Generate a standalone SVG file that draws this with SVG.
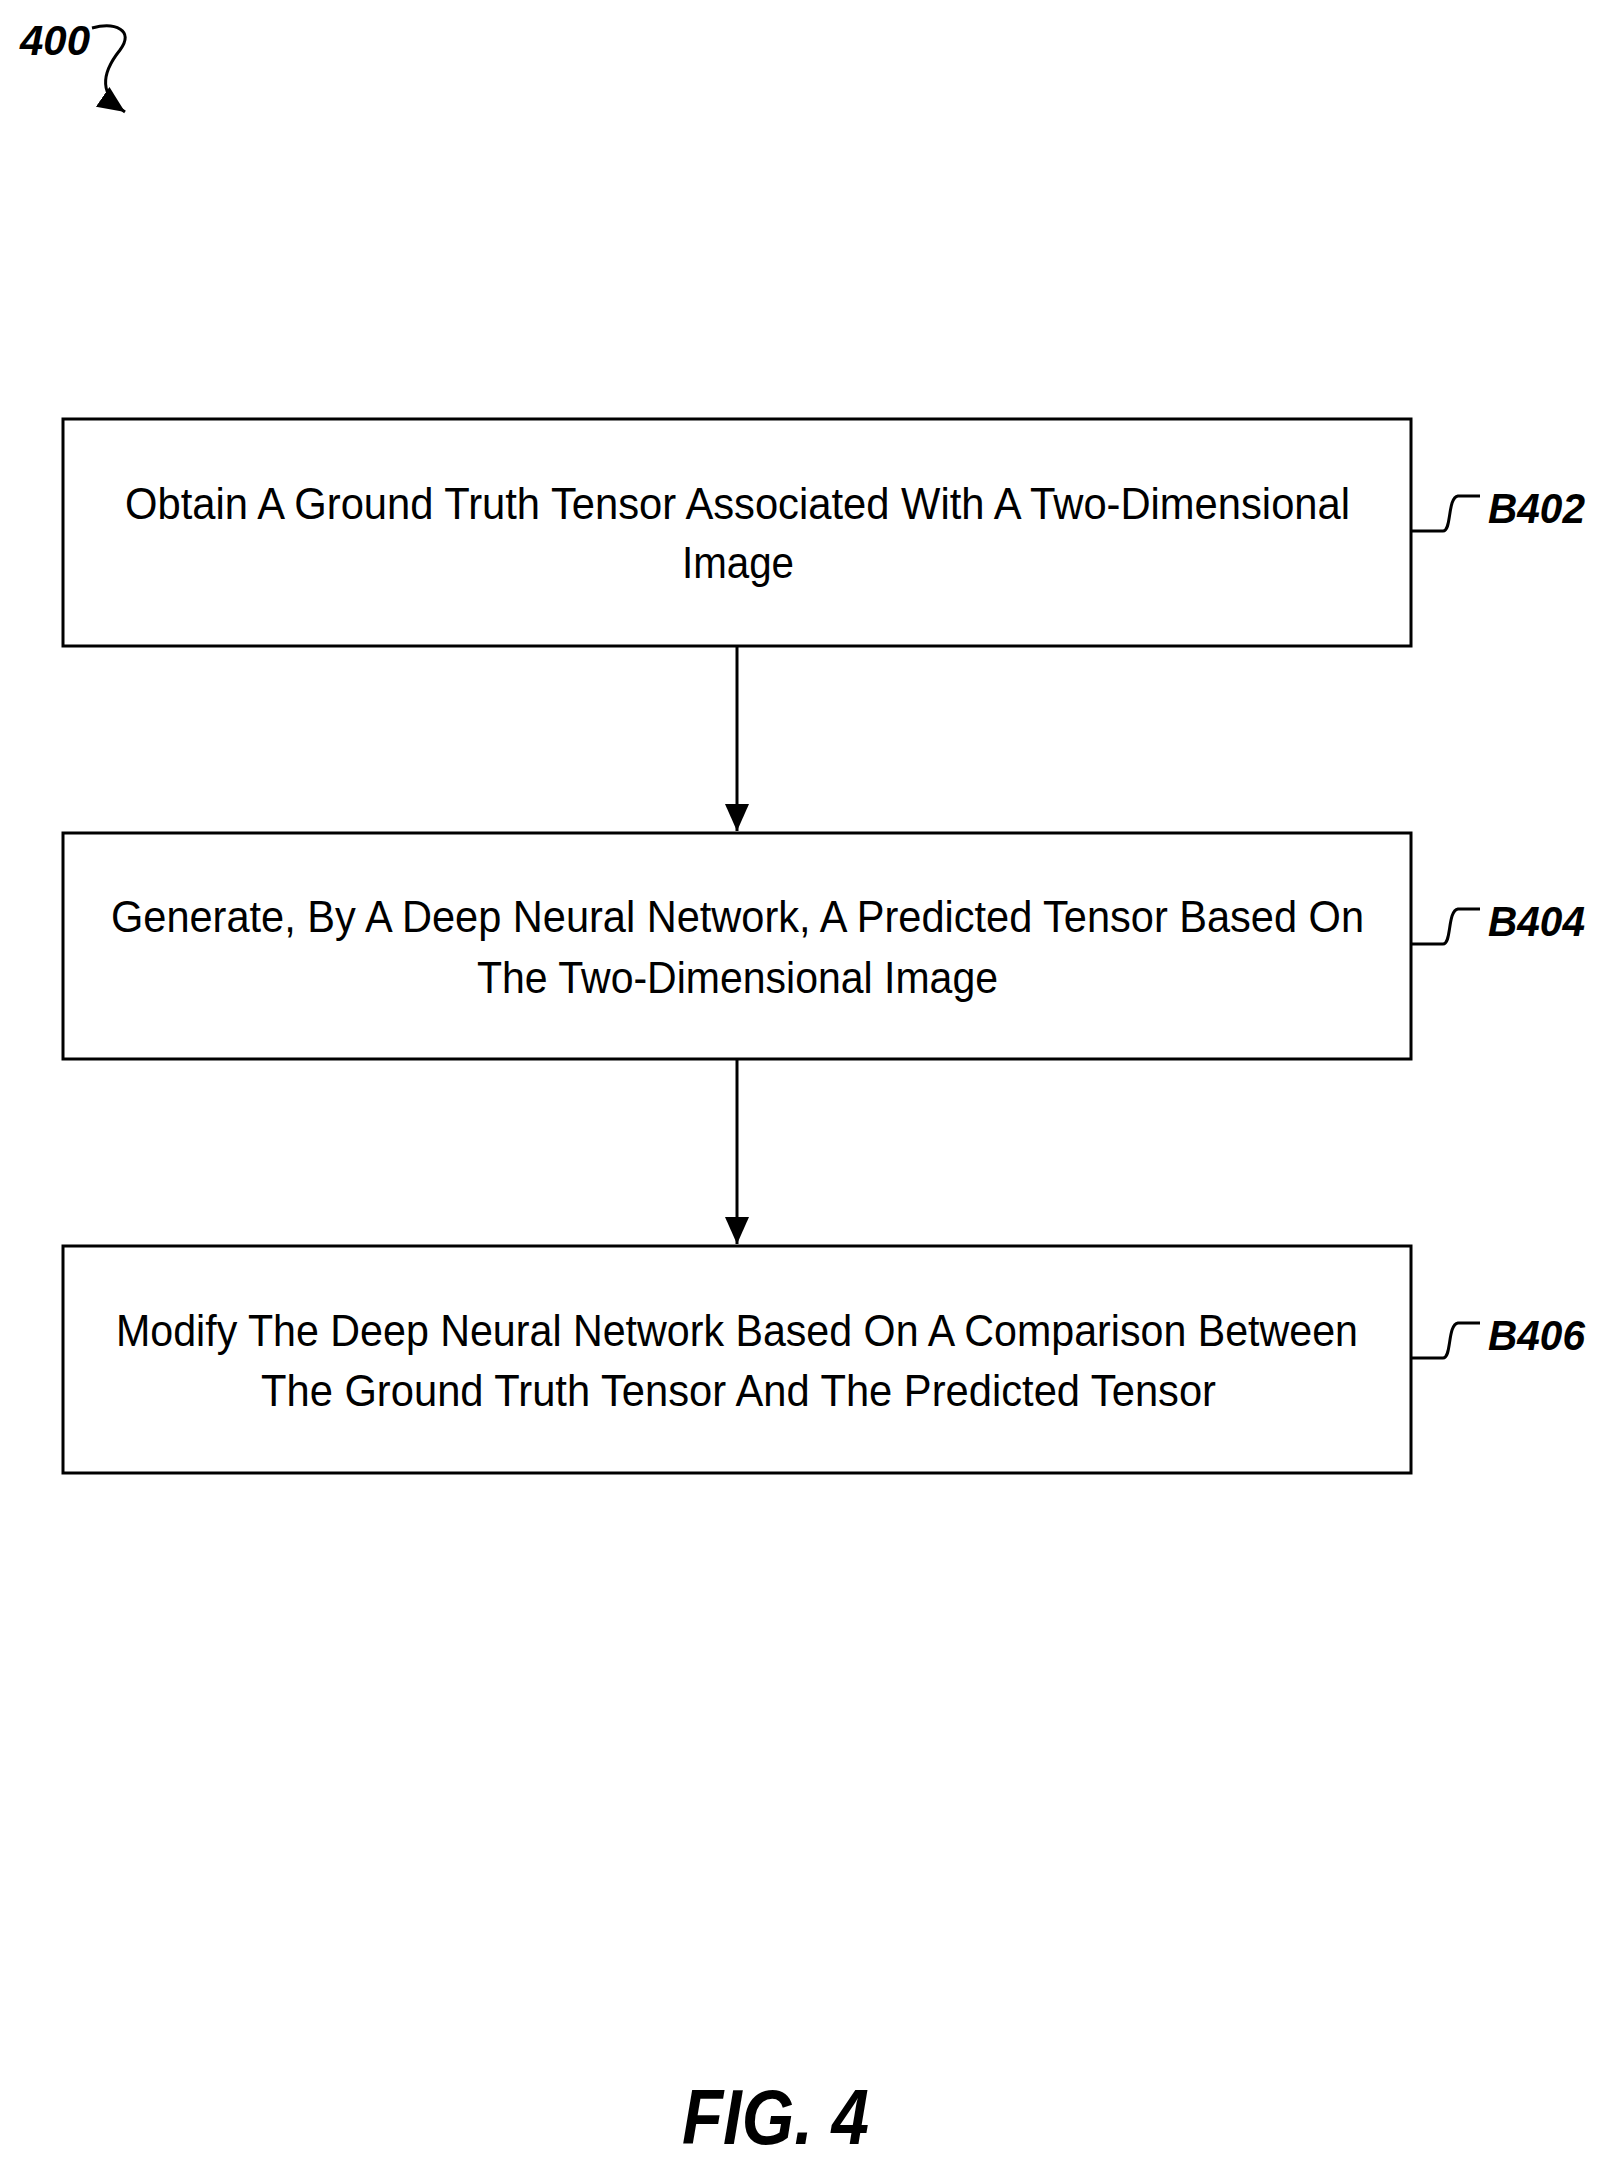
<svg xmlns="http://www.w3.org/2000/svg" width="1604" height="2164" viewBox="0 0 1604 2164">
<style>
.box{fill:#fff;stroke:#000;stroke-width:3}
.t{font-family:"Liberation Sans",Arial,sans-serif;font-size:44px;fill:#000}
.lbl{font-family:"Liberation Sans",Arial,sans-serif;font-size:42px;font-weight:bold;font-style:italic;fill:#000}
.ln{fill:none;stroke:#000;stroke-width:3}
</style>
<defs><marker id="ah" markerWidth="10" markerHeight="10" refX="9" refY="5" orient="auto" markerUnits="strokeWidth"><path d="M0,1 L9,5 L0,9 Z" fill="#000"/></marker></defs>
<rect width="1604" height="2164" fill="#fff"/>
<g id="ref400">
<text class="lbl" x="20" y="55" textLength="70" lengthAdjust="spacingAndGlyphs">400</text>
<path class="ln" d="M92,28 C115,22 135,30 120,50 C100,75 100,95 125,112" marker-end="url(#ah)" stroke-width="2"/>
</g>
<g id="B402">
<rect class="box" x="63" y="419" width="1348" height="227"/>
<text class="t" x="125" y="519" textLength="1225" lengthAdjust="spacingAndGlyphs">Obtain A Ground Truth Tensor Associated With A Two-Dimensional</text>
<text class="t" x="682" y="578" textLength="112" lengthAdjust="spacingAndGlyphs">Image</text>
<path class="ln" d="M1411,531 L1443,531 C1452,531 1447,498 1458,496 L1480,496" stroke-width="2"/>
<text class="lbl" x="1488" y="523" textLength="97" lengthAdjust="spacingAndGlyphs">B402</text>
</g>
<g id="B404">
<rect class="box" x="63" y="833" width="1348" height="226"/>
<text class="t" x="111" y="932" textLength="1253" lengthAdjust="spacingAndGlyphs">Generate, By A Deep Neural Network, A Predicted Tensor Based On</text>
<text class="t" x="477" y="993" textLength="521" lengthAdjust="spacingAndGlyphs">The Two-Dimensional Image</text>
<path class="ln" d="M1411,944 L1443,944 C1452,944 1447,911 1458,909 L1480,909" stroke-width="2"/>
<text class="lbl" x="1488" y="936" textLength="97" lengthAdjust="spacingAndGlyphs">B404</text>
</g>
<g id="B406">
<rect class="box" x="63" y="1246" width="1348" height="227"/>
<text class="t" x="116" y="1346" textLength="1242" lengthAdjust="spacingAndGlyphs">Modify The Deep Neural Network Based On A Comparison Between</text>
<text class="t" x="261" y="1406" textLength="955" lengthAdjust="spacingAndGlyphs">The Ground Truth Tensor And The Predicted Tensor</text>
<path class="ln" d="M1411,1358 L1443,1358 C1452,1358 1447,1325 1458,1323 L1480,1323" stroke-width="2"/>
<text class="lbl" x="1488" y="1350" textLength="97" lengthAdjust="spacingAndGlyphs">B406</text>
</g>
<g id="connectors">
<line class="ln" x1="737" y1="646" x2="737" y2="831" marker-end="url(#ah)"/>
<line class="ln" x1="737" y1="1059" x2="737" y2="1244" marker-end="url(#ah)"/>
</g>
<text class="lbl" x="682" y="2144" style="font-size:78px" textLength="187" lengthAdjust="spacingAndGlyphs">FIG. 4</text>
</svg>
